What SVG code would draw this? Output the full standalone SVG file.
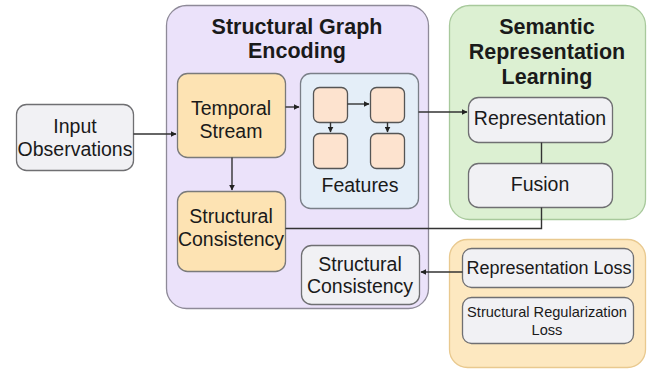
<svg xmlns="http://www.w3.org/2000/svg" width="660" height="371" viewBox="0 0 660 371">
<defs>
<style>
text{font-family:"Liberation Sans",Arial,sans-serif;fill:#1a1a1a;text-anchor:middle}
.title{font-weight:bold;font-size:21.5px}
.lbl{font-size:19.5px}
.grey{fill:#f1f1f4;stroke:#6f6f72;stroke-width:1.3}
.org{fill:#fde3b3;stroke:#7a7a7a;stroke-width:1.3}
.peach{fill:#fde3cf;stroke:#555;stroke-width:1.3}
.conn{fill:none;stroke:#333;stroke-width:1.4}
</style>
<marker id="ah" viewBox="0 0 10 10" refX="9" refY="5" markerWidth="6" markerHeight="6" orient="auto" markerUnits="userSpaceOnUse">
<path d="M0,0 L10,5 L0,10 z" fill="#222"/>
</marker>
</defs>
<rect width="660" height="371" fill="#ffffff"/>

<g id="encoding-container">
<rect x="166.5" y="5.5" width="262" height="303" rx="20" fill="#ebe2fa" stroke="#8e8a98" stroke-width="1.3"/>
<text class="title" x="297" y="34">Structural Graph</text>
<text class="title" x="297" y="58">Encoding</text>
</g>
<g id="semantic-container">
<rect x="449.5" y="5.5" width="196" height="214" rx="20" fill="#dcf0d2" stroke="#a8c99c" stroke-width="1.3"/>
<text class="title" x="547" y="34">Semantic</text>
<text class="title" x="547" y="59">Representation</text>
<text class="title" x="547" y="84">Learning</text>
</g>
<g id="loss-container">
<rect x="449.5" y="239.5" width="196" height="128" rx="18" fill="#fde8c0" stroke="#e9c98f" stroke-width="1.3"/>
</g>

<g id="input">
<rect class="grey" x="16.5" y="104.5" width="117" height="66" rx="10"/>
<text class="lbl" x="75" y="133">Input</text>
<text class="lbl" x="75" y="156">Observations</text>
</g>
<g id="temporal">
<rect class="org" x="177.5" y="73.5" width="108" height="84" rx="10"/>
<text class="lbl" x="231" y="115">Temporal</text>
<text class="lbl" x="231" y="138">Stream</text>
</g>
<g id="features">
<rect x="300.5" y="73.5" width="118" height="135" rx="10" fill="#e4eef8" stroke="#7a7f88" stroke-width="1.3"/>
<rect class="peach" x="313.5" y="87.5" width="34" height="35" rx="6"/>
<rect class="peach" x="370.5" y="87.5" width="34" height="35" rx="6"/>
<rect class="peach" x="313.5" y="133.5" width="34" height="35" rx="6"/>
<rect class="peach" x="370.5" y="133.5" width="34" height="35" rx="6"/>
<text class="lbl" x="360" y="192">Features</text>
</g>
<g id="struct-left">
<rect class="org" x="177.5" y="191.5" width="108" height="80" rx="10"/>
<text class="lbl" x="231" y="223">Structural</text>
<text class="lbl" x="231" y="246">Consistency</text>
</g>
<g id="struct-right">
<rect class="grey" x="301.5" y="245.5" width="118" height="59" rx="10"/>
<text class="lbl" x="360" y="271">Structural</text>
<text class="lbl" x="360" y="293">Consistency</text>
</g>
<g id="representation">
<rect class="grey" x="468.5" y="97.5" width="144" height="45" rx="10"/>
<text class="lbl" x="540" y="125">Representation</text>
</g>
<g id="fusion">
<rect class="grey" x="468.5" y="163.5" width="144" height="44" rx="10"/>
<text class="lbl" x="540" y="191">Fusion</text>
</g>
<g id="rep-loss">
<rect class="grey" x="462.5" y="248.5" width="171" height="39" rx="9"/>
<text x="549" y="274" style="font-size:18px">Representation Loss</text>
</g>
<g id="struct-loss">
<rect class="grey" x="462.5" y="297.5" width="171" height="46" rx="9"/>
<text x="547" y="317" style="font-size:14.6px">Structural Regularization</text>
<text x="547" y="335" style="font-size:14.6px">Loss</text>
</g>

<g id="connectors">
<path class="conn" d="M133.5,134 H176" marker-end="url(#ah)"/>
<path class="conn" d="M285.5,107 H299" marker-end="url(#ah)"/>
<path class="conn" d="M232,157.5 V190" marker-end="url(#ah)"/>
<path class="conn" d="M347.5,104 H369" marker-end="url(#ah)"/>
<path class="conn" d="M330.5,122.5 V132" marker-end="url(#ah)"/>
<path class="conn" d="M387.5,122.5 V132" marker-end="url(#ah)"/>
<path class="conn" d="M418.5,112 H467" marker-end="url(#ah)"/>
<path class="conn" d="M541.5,142.5 V163"/>
<path class="conn" d="M541.5,207.5 V228.5 H285.5"/>
<path class="conn" d="M462.5,272 H421" marker-end="url(#ah)"/>
</g>
</svg>
